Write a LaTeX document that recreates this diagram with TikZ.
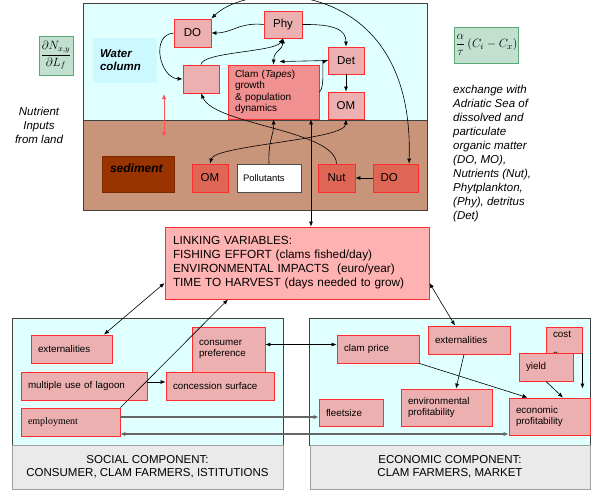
\documentclass[tikz,border=0pt]{standalone}
\usepackage{fontspec}
\setmainfont{Liberation Sans}
\newfontfamily\timesfont{Liberation Serif}
\usetikzlibrary{arrows.meta,positioning}
\definecolor{waterbg}{RGB}{224,255,255}
\definecolor{waterlbl}{RGB}{204,248,255}
\definecolor{sedbg}{RGB}{200,148,122}
\definecolor{sedlbl}{RGB}{153,51,0}
\definecolor{boxred}{RGB}{255,45,45}
\definecolor{boxpink}{RGB}{236,176,176}
\definecolor{clampink}{RGB}{240,144,144}
\definecolor{sedred}{RGB}{222,102,85}
\definecolor{linkpink}{RGB}{255,178,178}
\definecolor{formfill}{RGB}{194,224,208}
\definecolor{formgreen}{RGB}{90,170,120}
\definecolor{complight}{RGB}{234,234,234}
\definecolor{compgray}{RGB}{160,160,160}
\definecolor{arrowred}{RGB}{255,80,80}
\tikzset{
    envnode/.style={rectangle,draw=boxred,fill=boxpink,line width=0.9pt,align=center,inner sep=2pt,font=\fontsize{11.5}{13}\selectfont},
    clamnode/.style={envnode,fill=clampink,align=left,font=\fontsize{10}{11.5}\selectfont},
    sednode/.style={envnode,fill=sedred},
    varbox/.style={rectangle,draw=boxred,fill=boxpink,line width=0.9pt,align=left,inner xsep=7pt,inner ysep=2pt,font=\fontsize{9.8}{11.5}\selectfont},
    linkbox/.style={rectangle,draw=boxred,fill=linkpink,line width=0.9pt,align=left,inner xsep=8pt,font=\fontsize{11.8}{14}\selectfont},
    formbox/.style={rectangle,draw=formgreen,fill=formfill,line width=0.9pt,inner sep=1pt},
    compbox/.style={rectangle,draw=compgray,fill=complight,line width=0.9pt,align=center,font=\fontsize{11.5}{13}\selectfont},
    areabox/.style={draw=black!75,line width=0.9pt},
    notetext/.style={font=\fontsize{11.5}{14}\selectfont\itshape},
    flowline/.style={-{Latex[length=5pt,width=4pt]},line width=0.6pt},
    flowboth/.style={{Latex[length=5pt,width=4pt]}-{Latex[length=5pt,width=4pt]},line width=0.6pt},
    grayline/.style={-{Latex[length=5pt,width=4.5pt]},line width=1.2pt,draw=black!60},
    grayboth/.style={{Latex[length=5pt,width=4.5pt]}-{Latex[length=5pt,width=4.5pt]},line width=1.2pt,draw=black!60},
    redboth/.style={{Latex[length=5pt,width=4.5pt]}-{Latex[length=5pt,width=4.5pt]},line width=1pt,draw=arrowred}
}
\begin{document}
\begin{tikzpicture}[x=1pt,y=-1pt]
\useasboundingbox (0,0) rectangle (592,493);
% lagoon: water column and sediment
\filldraw[areabox,fill=waterbg] (83,3) rectangle (427,120);
\filldraw[areabox,fill=sedbg] (83,120) rectangle (427,210);
\node[rectangle,fill=waterlbl,minimum width=64pt,minimum height=45pt,text width=50pt,align=left,font=\fontsize{11.5}{13}\selectfont\bfseries\itshape] (waterlabel) at (125,60.5) {Water\\column};
\node[rectangle,fill=sedlbl,draw=sedlbl!80!black,minimum width=72pt,minimum height=36pt,text width=56pt,text depth=12pt,align=left,font=\fontsize{12}{13}\selectfont\bfseries\itshape] (sedlabel) at (138,174) {sediment};
\node[envnode,minimum width=37pt,minimum height=28pt] (do) at (192.5,33) {DO};
\node[envnode,minimum width=38pt,minimum height=27pt] (phy) at (283,24.5) {Phy};
\node[envnode,minimum width=36pt,minimum height=27pt] (det) at (346,60.5) {Det};
\node[envnode,minimum width=36pt,minimum height=27pt] (omw) at (346,105.5) {OM};
\node[envnode,minimum width=36pt,minimum height=28pt] (blank) at (201,79) {};
\node[clamnode,minimum width=91pt,minimum height=54pt,text width=77pt] (clam) at (273.5,92) {Clam (\textit{Tapes})\\growth\\\&~population\\dynamics};
\node[sednode,minimum width=36pt,minimum height=28pt] (oms) at (210,178) {OM};
\node[envnode,fill=white,draw=black!70,minimum width=64pt,minimum height=28pt,text width=52pt,align=left,font=\fontsize{9.5}{11}\selectfont] (poll) at (269,178) {Pollutants};
\node[sednode,minimum width=37pt,minimum height=28pt] (nut) at (336.5,178) {Nut};
\node[sednode,minimum width=45pt,minimum height=28pt,text width=30pt,align=left] (dos) at (395.5,178) {DO};
% boundary terms
\node[formbox,minimum width=34pt,minimum height=39pt,font=\fontsize{12}{13}\selectfont] (fland) at (56,55.5) {$\displaystyle\frac{\partial N_{x,y}}{\partial L_f}$};
\node[formbox,minimum width=63pt,minimum height=36pt,font=\fontsize{12.5}{14}\selectfont] (fsea) at (486.5,45) {$\displaystyle\frac{\alpha}{\tau}\left(C_i-C_x\right)$};
\node[notetext,align=center] (land) at (39,125) {Nutrient\\Inputs\\from land};
\node[notetext,align=left,anchor=north west,inner sep=0pt] (sea) at (453,85) {exchange with\\Adriatic Sea of\\dissolved and\\particulate\\organic matter\\(DO, MO),\\Nutrients (Nut),\\Phytplankton,\\(Phy), detritus\\(Det)};
% linking variables
\node[linkbox,minimum width=264pt,minimum height=72pt,text width=248pt] (link) at (297,263) {LINKING VARIABLES:\\FISHING EFFORT (clams fished/day)\\ENVIRONMENTAL IMPACTS~~(euro/year)\\TIME TO HARVEST (days needed to grow)};
% social component
\filldraw[areabox,fill=waterbg] (12,318) rectangle (283,445);
\node[compbox,minimum width=271pt,minimum height=44pt] (soclabel) at (147.5,467) {SOCIAL COMPONENT:\\CONSUMER, CLAM FARMERS, ISTITUTIONS};
\node[varbox,minimum height=28pt,text width=67pt] (sext) at (71.5,349) {externalities};
\node[varbox,minimum height=28pt,text width=112pt] (multi) at (84,386) {multiple use of lagoon};
\node[varbox,minimum height=28pt,text width=94pt] (conc) at (220,386) {concession surface};
\node[varbox,minimum height=45pt,text width=59pt] (cons) at (228.5,349.5) {consumer\\preference};
\node[varbox,minimum height=28pt,text width=85pt,font=\timesfont\fontsize{10}{11}\selectfont] (empl) at (70.5,422) {employment};
% economic component
\filldraw[areabox,fill=waterbg] (309,318) rectangle (590,445);
\node[compbox,minimum width=280pt,minimum height=44pt] (ecolabel) at (450,467) {ECONOMIC COMPONENT:\\CLAM FARMERS, MARKET};
\node[varbox,minimum height=28pt,text width=68pt] (price) at (378,349) {clam price};
\node[varbox,minimum height=26pt,text width=22pt] (cost) at (564,340) {cost\\\smash{\raisebox{-9pt}{s}}};
\node[varbox,minimum height=28pt,text width=68pt] (eext) at (469,340) {externalities};
\node[varbox,minimum height=28pt,text width=40pt] (yield) at (546,367) {yield};
\node[varbox,minimum height=37pt,text width=77pt] (envp) at (446.5,407.5) {environmental\\profitability};
\node[varbox,minimum height=37pt,text width=67pt] (ecop) at (549.5,416.5) {economic\\profitability};
\node[varbox,minimum height=27pt,text width=50pt] (fleet) at (351,412.5) {fleetsize};
% lagoon connectors
\draw[flowboth] (do.north east) .. controls (250,-20) and (415,-25) .. ([xshift=13.5pt]dos.north);
\draw[flowline] (phy.west) .. controls (240,22) and (232,33) .. (do.east);
\draw[flowline] (phy.east) .. controls (335,24) and (346,30) .. (det.north);
\draw[flowline] (det) -- (omw);
\draw[flowboth] (phy.south) .. controls (283,50) and (274,50) .. (clam.north);
\draw[flowline] (det.west) -- ([xshift=6pt,yshift=3pt]clam.north);
\draw[flowline] (clam.east) .. controls (325,88) and (322,62) .. (det.west);
\draw[flowline] (do.west) .. controls (150,35) and (160,78) .. (blank.west);
\draw[flowline] (blank.north) .. controls (202,52) and (275,52) .. (phy.south);
\draw[flowline] (nut.north) .. controls (335,130) and (215,125) .. (blank.south);
\draw[flowline] (poll.north) .. controls (268,140) and (274,135) .. (clam.south);
\draw[flowboth] (oms.north) .. controls (215,145) and (345,140) .. (omw.south);
\draw[flowline] (dos) -- (nut);
\coordinate (wtop) at (164,94);
\coordinate (sbot) at (164,137);
\draw[redboth] (wtop) -- (sbot);
\draw[flowboth] ([xshift=37.5pt]clam.south) -- ([xshift=37.5pt]clam.south |- link.north);
% links to the two components
\draw[flowboth] ([yshift=-20pt]link.west) -- ([xshift=32.5pt]sext.north);
\draw[flowline] (empl.north east) -- ([xshift=-69pt]link.south);
\draw[flowboth] ([yshift=-20pt]link.east) -- ([xshift=-14pt]eext.north);
\draw[flowline] ([yshift=4pt]multi.east) -- ([yshift=4pt]conc.west);
\draw[flowboth] ([yshift=5pt]cons.east) -- ([yshift=5pt]cons.east -| price.west);
\draw[grayline] ([yshift=5pt]empl.east) -- ([yshift=5pt]empl.east -| fleet.west);
\draw[grayboth] ([yshift=-12pt]empl.east) -- ([yshift=-12pt]empl.east -| ecop.west);
\draw[flowline] ([xshift=-5pt]eext.south) -- ([xshift=9.5pt]envp.north);
\draw[flowline] (price.south east) -- ([xshift=-22pt]ecop.north);
\draw[flowline] (yield.south) -- ([xshift=13.5pt]ecop.north);
\draw[flowline] (cost.south east) -- ([yshift=9pt]cost.south east |- ecop.north);
\end{tikzpicture}
\end{document}
